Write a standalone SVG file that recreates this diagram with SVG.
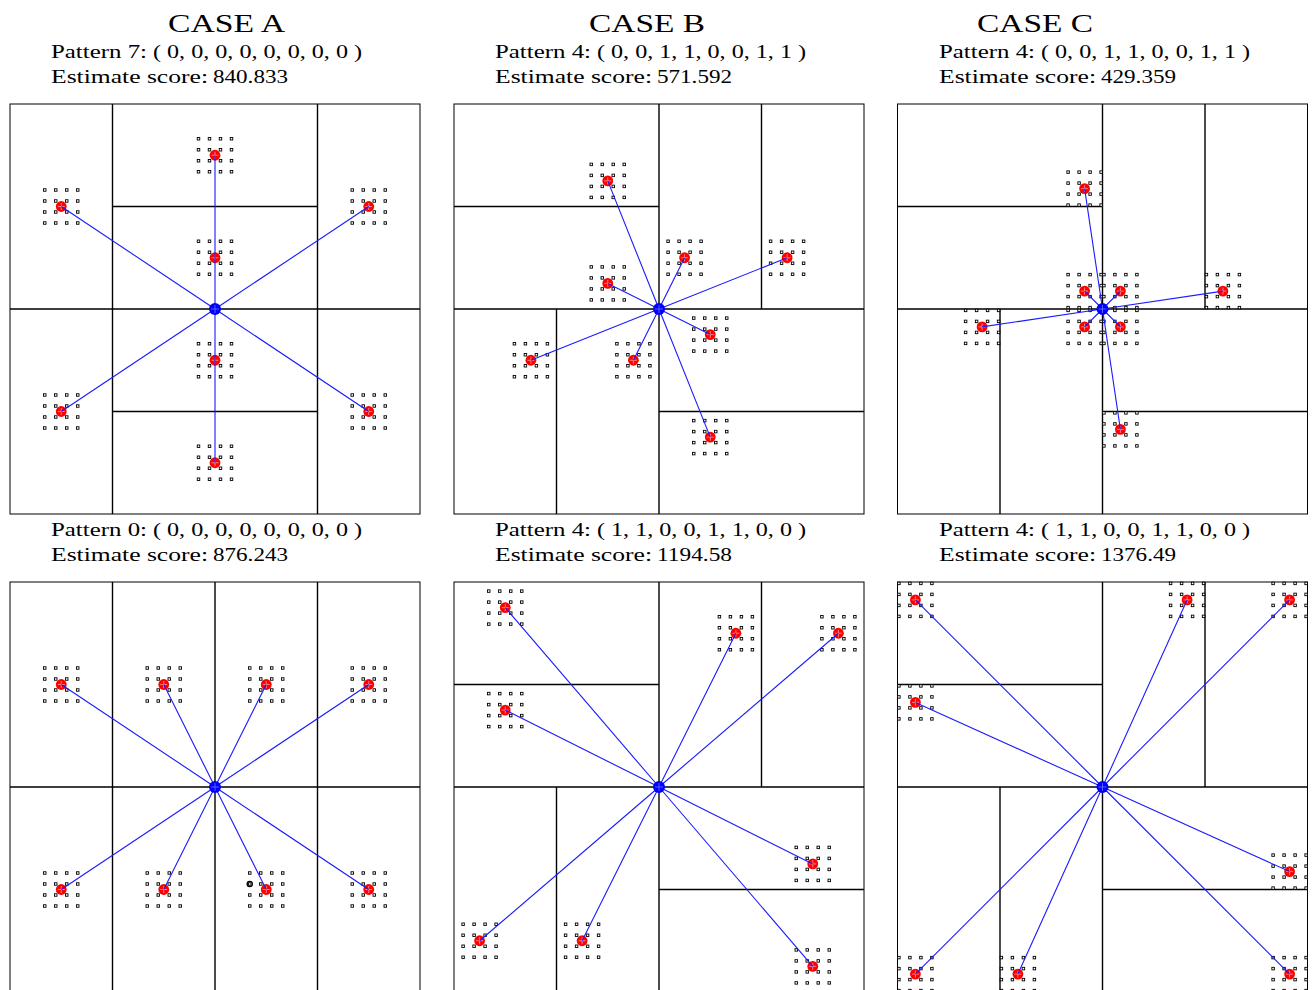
<svg xmlns="http://www.w3.org/2000/svg" xmlns:xlink="http://www.w3.org/1999/xlink" width="1312" height="990" viewBox="0 0 1312 990">
<style>
.ttl{font-family:"Liberation Serif","Times New Roman",serif;font-size:26px;fill:#000}
.lbl{font-family:"Liberation Serif","Times New Roman",serif;font-size:19px;fill:#000}
.box{fill:none;stroke:#000;stroke-width:1}
.part{stroke:#000;stroke-width:1.4;fill:none}
.con{stroke:#1a1aff;stroke-width:1.1;fill:none}
</style>
<defs>
<g id="grid">
<rect x="-17.75" y="-17.75" width="2.5" height="2.5"/><rect x="-6.75" y="-17.75" width="2.5" height="2.5"/><rect x="4.25" y="-17.75" width="2.5" height="2.5"/><rect x="15.25" y="-17.75" width="2.5" height="2.5"/>
<rect x="-17.75" y="-6.75" width="2.5" height="2.5"/><rect x="-6.75" y="-6.75" width="2.5" height="2.5"/><rect x="4.25" y="-6.75" width="2.5" height="2.5"/><rect x="15.25" y="-6.75" width="2.5" height="2.5"/>
<rect x="-17.75" y="4.25" width="2.5" height="2.5"/><rect x="-6.75" y="4.25" width="2.5" height="2.5"/><rect x="4.25" y="4.25" width="2.5" height="2.5"/><rect x="15.25" y="4.25" width="2.5" height="2.5"/>
<rect x="-17.75" y="15.25" width="2.5" height="2.5"/><rect x="-6.75" y="15.25" width="2.5" height="2.5"/><rect x="4.25" y="15.25" width="2.5" height="2.5"/><rect x="15.25" y="15.25" width="2.5" height="2.5"/>
</g>
<g id="rm"><circle r="5.4" fill="#ff0000"/><path d="M-3.5,0H3.5M0,-3.5V3.5" stroke="#ffb0b0" stroke-width="0.7"/></g>
<g id="bm"><circle r="6" fill="#0000ff"/><path d="M-4,0H4M0,-4V4" stroke="#8080ff" stroke-width="0.7"/></g>
</defs>
<style>#grid rect{fill:#fff;stroke:#000;stroke-width:0.9}</style>
<rect width="1312" height="990" fill="#fff"/>

<!-- Titles and labels -->
<g id="labels">
<text class="ttl" x="168" y="32" textLength="117" lengthAdjust="spacingAndGlyphs">CASE A</text>
<text class="ttl" x="589" y="32" textLength="116" lengthAdjust="spacingAndGlyphs">CASE B</text>
<text class="ttl" x="977" y="32" textLength="116" lengthAdjust="spacingAndGlyphs">CASE C</text>

<text class="lbl" x="51" y="58" textLength="96" lengthAdjust="spacingAndGlyphs">Pattern 7:</text>
<text class="lbl" x="153" y="58" textLength="209" lengthAdjust="spacingAndGlyphs">( 0, 0, 0, 0, 0, 0, 0, 0 )</text>
<text class="lbl" x="51" y="83" textLength="157" lengthAdjust="spacingAndGlyphs">Estimate score:</text>
<text class="lbl" x="213" y="83" textLength="75" lengthAdjust="spacingAndGlyphs">840.833</text>

<text class="lbl" x="495" y="58" textLength="96" lengthAdjust="spacingAndGlyphs">Pattern 4:</text>
<text class="lbl" x="597" y="58" textLength="209" lengthAdjust="spacingAndGlyphs">( 0, 0, 1, 1, 0, 0, 1, 1 )</text>
<text class="lbl" x="495" y="83" textLength="157" lengthAdjust="spacingAndGlyphs">Estimate score:</text>
<text class="lbl" x="657" y="83" textLength="75" lengthAdjust="spacingAndGlyphs">571.592</text>

<text class="lbl" x="939" y="58" textLength="96" lengthAdjust="spacingAndGlyphs">Pattern 4:</text>
<text class="lbl" x="1041" y="58" textLength="209" lengthAdjust="spacingAndGlyphs">( 0, 0, 1, 1, 0, 0, 1, 1 )</text>
<text class="lbl" x="939" y="83" textLength="157" lengthAdjust="spacingAndGlyphs">Estimate score:</text>
<text class="lbl" x="1101" y="83" textLength="75" lengthAdjust="spacingAndGlyphs">429.359</text>

<text class="lbl" x="51" y="536" textLength="96" lengthAdjust="spacingAndGlyphs">Pattern 0:</text>
<text class="lbl" x="153" y="536" textLength="209" lengthAdjust="spacingAndGlyphs">( 0, 0, 0, 0, 0, 0, 0, 0 )</text>
<text class="lbl" x="51" y="561" textLength="157" lengthAdjust="spacingAndGlyphs">Estimate score:</text>
<text class="lbl" x="213" y="561" textLength="75" lengthAdjust="spacingAndGlyphs">876.243</text>

<text class="lbl" x="495" y="536" textLength="96" lengthAdjust="spacingAndGlyphs">Pattern 4:</text>
<text class="lbl" x="597" y="536" textLength="209" lengthAdjust="spacingAndGlyphs">( 1, 1, 0, 0, 1, 1, 0, 0 )</text>
<text class="lbl" x="495" y="561" textLength="157" lengthAdjust="spacingAndGlyphs">Estimate score:</text>
<text class="lbl" x="657" y="561" textLength="75" lengthAdjust="spacingAndGlyphs">1194.58</text>

<text class="lbl" x="939" y="536" textLength="96" lengthAdjust="spacingAndGlyphs">Pattern 4:</text>
<text class="lbl" x="1041" y="536" textLength="209" lengthAdjust="spacingAndGlyphs">( 1, 1, 0, 0, 1, 1, 0, 0 )</text>
<text class="lbl" x="939" y="561" textLength="157" lengthAdjust="spacingAndGlyphs">Estimate score:</text>
<text class="lbl" x="1101" y="561" textLength="75" lengthAdjust="spacingAndGlyphs">1376.49</text>
</g>

<!-- Panel frames and partitions -->
<g id="panel-a-top">
<rect class="box" x="10" y="104" width="410" height="410"/>
<path class="part" d="M112.5,104V514M317.5,104V514M112.5,206.5H317.5M10,309H420M112.5,411.5H317.5"/>
</g>
<g id="panel-a-bottom">
<rect class="box" x="10" y="582" width="410" height="410"/>
<path class="part" d="M112.5,582V992M215,582V992M317.5,582V992M10,787H420"/>
</g>
<g id="panel-b-top">
<rect class="box" x="454" y="104" width="410" height="410"/>
<path class="part" d="M659,104V514M761.5,104V309M454,206.5H659M454,309H864M556.5,309V514M659,411.5H864"/>
</g>
<g id="panel-b-bottom">
<rect class="box" x="454" y="582" width="410" height="410"/>
<path class="part" d="M659,582V992M761.5,582V787M454,684.5H659M454,787H864M556.5,787V992M659,889.5H864"/>
</g>
<g id="panel-c-top">
<rect class="box" x="897.5" y="104" width="410" height="410"/>
<path class="part" d="M1102.5,104V514M1205,104V309M897.5,206.5H1102.5M897.5,309H1307.5M1000,309V514M1102.5,411.5H1307.5"/>
</g>
<g id="panel-c-bottom">
<rect class="box" x="897.5" y="582" width="410" height="410"/>
<path class="part" d="M1102.5,582V992M1205,582V787M897.5,684.5H1102.5M897.5,787H1307.5M1000,787V992M1102.5,889.5H1307.5"/>
</g>

<!-- Nodes: sample grids -->
<g id="grids">
<use xlink:href="#grid" x="215" y="155.25"/><use xlink:href="#grid" x="61.25" y="206.5"/><use xlink:href="#grid" x="368.75" y="206.5"/><use xlink:href="#grid" x="215" y="257.75"/><use xlink:href="#grid" x="215" y="360.25"/><use xlink:href="#grid" x="61.25" y="411.5"/><use xlink:href="#grid" x="368.75" y="411.5"/><use xlink:href="#grid" x="215" y="462.75"/>
<use xlink:href="#grid" x="61.25" y="684.5"/><use xlink:href="#grid" x="163.75" y="684.5"/><use xlink:href="#grid" x="266.25" y="684.5"/><use xlink:href="#grid" x="368.75" y="684.5"/><use xlink:href="#grid" x="61.25" y="889.5"/><use xlink:href="#grid" x="163.75" y="889.5"/><use xlink:href="#grid" x="266.25" y="889.5"/><use xlink:href="#grid" x="368.75" y="889.5"/>
<use xlink:href="#grid" x="607.75" y="180.9"/><use xlink:href="#grid" x="684.6" y="257.75"/><use xlink:href="#grid" x="787.1" y="257.75"/><use xlink:href="#grid" x="607.75" y="283.4"/><use xlink:href="#grid" x="710.25" y="334.6"/><use xlink:href="#grid" x="633.4" y="360.25"/><use xlink:href="#grid" x="530.9" y="360.25"/><use xlink:href="#grid" x="710.25" y="437.1"/>
<use xlink:href="#grid" x="505.25" y="607.6"/><use xlink:href="#grid" x="505.25" y="710.1"/><use xlink:href="#grid" x="735.9" y="633.25"/><use xlink:href="#grid" x="838.4" y="633.25"/><use xlink:href="#grid" x="812.75" y="863.9"/><use xlink:href="#grid" x="479.6" y="940.75"/><use xlink:href="#grid" x="582.1" y="940.75"/><use xlink:href="#grid" x="812.75" y="966.4"/>
<use xlink:href="#grid" x="1084.6" y="188.6"/><use xlink:href="#grid" x="1084.6" y="291.1"/><use xlink:href="#grid" x="1120.4" y="291.1"/><use xlink:href="#grid" x="1222.9" y="291.1"/><use xlink:href="#grid" x="982.1" y="326.9"/><use xlink:href="#grid" x="1084.6" y="326.9"/><use xlink:href="#grid" x="1120.4" y="326.9"/><use xlink:href="#grid" x="1120.4" y="429.4"/>
<use xlink:href="#grid" x="915.4" y="599.9"/><use xlink:href="#grid" x="915.4" y="702.4"/><use xlink:href="#grid" x="1187.1" y="599.9"/><use xlink:href="#grid" x="1289.6" y="599.9"/><use xlink:href="#grid" x="1289.6" y="871.6"/><use xlink:href="#grid" x="915.4" y="974.1"/><use xlink:href="#grid" x="1017.9" y="974.1"/><use xlink:href="#grid" x="1289.6" y="974.1"/>
<circle cx="249.75" cy="884" r="2.6" fill="none" stroke="#000" stroke-width="1.3"/>
</g>

<!-- Nodes: estimated positions (red) -->
<g id="nodes-a-top">
<g id="a-top-1"><use xlink:href="#rm" x="215" y="155.25"/></g>
<g id="a-top-2"><use xlink:href="#rm" x="61.25" y="206.5"/></g>
<g id="a-top-3"><use xlink:href="#rm" x="368.75" y="206.5"/></g>
<g id="a-top-4"><use xlink:href="#rm" x="215" y="257.75"/></g>
<g id="a-top-5"><use xlink:href="#rm" x="215" y="360.25"/></g>
<g id="a-top-6"><use xlink:href="#rm" x="61.25" y="411.5"/></g>
<g id="a-top-7"><use xlink:href="#rm" x="368.75" y="411.5"/></g>
<g id="a-top-8"><use xlink:href="#rm" x="215" y="462.75"/></g>
</g>
<g id="nodes-a-bottom">
<g id="a-bot-1"><use xlink:href="#rm" x="61.25" y="684.5"/></g>
<g id="a-bot-2"><use xlink:href="#rm" x="163.75" y="684.5"/></g>
<g id="a-bot-3"><use xlink:href="#rm" x="266.25" y="684.5"/></g>
<g id="a-bot-4"><use xlink:href="#rm" x="368.75" y="684.5"/></g>
<g id="a-bot-5"><use xlink:href="#rm" x="61.25" y="889.5"/></g>
<g id="a-bot-6"><use xlink:href="#rm" x="163.75" y="889.5"/></g>
<g id="a-bot-7"><use xlink:href="#rm" x="266.25" y="889.5"/></g>
<g id="a-bot-8"><use xlink:href="#rm" x="368.75" y="889.5"/></g>
</g>
<g id="nodes-b-top">
<g id="b-top-1"><use xlink:href="#rm" x="607.75" y="180.9"/></g>
<g id="b-top-2"><use xlink:href="#rm" x="684.6" y="257.75"/></g>
<g id="b-top-3"><use xlink:href="#rm" x="787.1" y="257.75"/></g>
<g id="b-top-4"><use xlink:href="#rm" x="607.75" y="283.4"/></g>
<g id="b-top-5"><use xlink:href="#rm" x="710.25" y="334.6"/></g>
<g id="b-top-6"><use xlink:href="#rm" x="633.4" y="360.25"/></g>
<g id="b-top-7"><use xlink:href="#rm" x="530.9" y="360.25"/></g>
<g id="b-top-8"><use xlink:href="#rm" x="710.25" y="437.1"/></g>
</g>
<g id="nodes-b-bottom">
<g id="b-bot-1"><use xlink:href="#rm" x="505.25" y="607.6"/></g>
<g id="b-bot-2"><use xlink:href="#rm" x="505.25" y="710.1"/></g>
<g id="b-bot-3"><use xlink:href="#rm" x="735.9" y="633.25"/></g>
<g id="b-bot-4"><use xlink:href="#rm" x="838.4" y="633.25"/></g>
<g id="b-bot-5"><use xlink:href="#rm" x="812.75" y="863.9"/></g>
<g id="b-bot-6"><use xlink:href="#rm" x="479.6" y="940.75"/></g>
<g id="b-bot-7"><use xlink:href="#rm" x="582.1" y="940.75"/></g>
<g id="b-bot-8"><use xlink:href="#rm" x="812.75" y="966.4"/></g>
</g>
<g id="nodes-c-top">
<g id="c-top-1"><use xlink:href="#rm" x="1084.6" y="188.6"/></g>
<g id="c-top-2"><use xlink:href="#rm" x="1084.6" y="291.1"/></g>
<g id="c-top-3"><use xlink:href="#rm" x="1120.4" y="291.1"/></g>
<g id="c-top-4"><use xlink:href="#rm" x="1222.9" y="291.1"/></g>
<g id="c-top-5"><use xlink:href="#rm" x="982.1" y="326.9"/></g>
<g id="c-top-6"><use xlink:href="#rm" x="1084.6" y="326.9"/></g>
<g id="c-top-7"><use xlink:href="#rm" x="1120.4" y="326.9"/></g>
<g id="c-top-8"><use xlink:href="#rm" x="1120.4" y="429.4"/></g>
</g>
<g id="nodes-c-bottom">
<g id="c-bot-1"><use xlink:href="#rm" x="915.4" y="599.9"/></g>
<g id="c-bot-2"><use xlink:href="#rm" x="915.4" y="702.4"/></g>
<g id="c-bot-3"><use xlink:href="#rm" x="1187.1" y="599.9"/></g>
<g id="c-bot-4"><use xlink:href="#rm" x="1289.6" y="599.9"/></g>
<g id="c-bot-5"><use xlink:href="#rm" x="1289.6" y="871.6"/></g>
<g id="c-bot-6"><use xlink:href="#rm" x="915.4" y="974.1"/></g>
<g id="c-bot-7"><use xlink:href="#rm" x="1017.9" y="974.1"/></g>
<g id="c-bot-8"><use xlink:href="#rm" x="1289.6" y="974.1"/></g>
</g>

<!-- Connectors -->
<g id="connectors" class="con">
<path d="M215,309L215,155.25M215,309L61.25,206.5M215,309L368.75,206.5M215,309L215,462.75M215,309L61.25,411.5M215,309L368.75,411.5"/>
<path d="M215,787L61.25,684.5M215,787L163.75,684.5M215,787L266.25,684.5M215,787L368.75,684.5M215,787L61.25,889.5M215,787L163.75,889.5M215,787L266.25,889.5M215,787L368.75,889.5"/>
<path d="M659,309L607.75,180.9M659,309L684.6,257.75M659,309L787.1,257.75M659,309L607.75,283.4M659,309L710.25,334.6M659,309L633.4,360.25M659,309L530.9,360.25M659,309L710.25,437.1"/>
<path d="M659,787L505.25,607.6M659,787L505.25,710.1M659,787L735.9,633.25M659,787L838.4,633.25M659,787L812.75,863.9M659,787L479.6,940.75M659,787L582.1,940.75M659,787L812.75,966.4"/>
<path d="M1102.5,309L1084.6,188.6M1102.5,309L1084.6,291.1M1102.5,309L1120.4,291.1M1102.5,309L1222.9,291.1M1102.5,309L982.1,326.9M1102.5,309L1084.6,326.9M1102.5,309L1120.4,326.9M1102.5,309L1120.4,429.4"/>
<path d="M1102.5,787L915.4,599.9M1102.5,787L915.4,702.4M1102.5,787L1187.1,599.9M1102.5,787L1289.6,599.9M1102.5,787L1289.6,871.6M1102.5,787L915.4,974.1M1102.5,787L1017.9,974.1M1102.5,787L1289.6,974.1"/>
</g>

<!-- Centers (blue) -->
<g id="centers">
<g id="center-a-top"><use xlink:href="#bm" x="215" y="309"/></g>
<g id="center-a-bottom"><use xlink:href="#bm" x="215" y="787"/></g>
<g id="center-b-top"><use xlink:href="#bm" x="659" y="309"/></g>
<g id="center-b-bottom"><use xlink:href="#bm" x="659" y="787"/></g>
<g id="center-c-top"><use xlink:href="#bm" x="1102.5" y="309"/></g>
<g id="center-c-bottom"><use xlink:href="#bm" x="1102.5" y="787"/></g>
</g>
</svg>
